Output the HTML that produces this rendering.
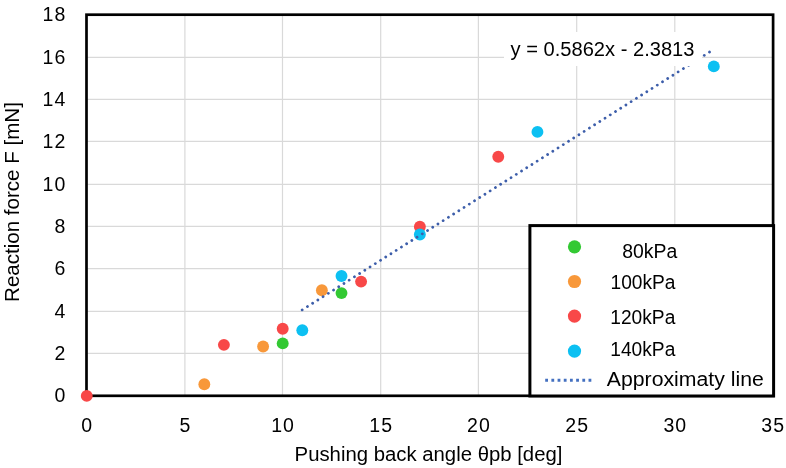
<!DOCTYPE html><html><head><meta charset="utf-8"><style>html,body{margin:0;padding:0;background:#fff;}svg{display:block;will-change:transform;}text{font-family:"Liberation Sans",sans-serif;fill:#000;}</style></head><body>
<svg width="786" height="468" viewBox="0 0 786 468">
<rect x="0" y="0" width="786" height="468" fill="#fff"/>
<line x1="184.9" y1="14.7" x2="184.9" y2="395.8" stroke="#D9D9D9" stroke-width="1.2"/>
<line x1="282.5" y1="14.7" x2="282.5" y2="395.8" stroke="#D9D9D9" stroke-width="1.2"/>
<line x1="380.7" y1="14.7" x2="380.7" y2="395.8" stroke="#D9D9D9" stroke-width="1.2"/>
<line x1="478.4" y1="14.7" x2="478.4" y2="395.8" stroke="#D9D9D9" stroke-width="1.2"/>
<line x1="576.7" y1="14.7" x2="576.7" y2="395.8" stroke="#D9D9D9" stroke-width="1.2"/>
<line x1="674.8" y1="14.7" x2="674.8" y2="395.8" stroke="#D9D9D9" stroke-width="1.2"/>
<line x1="86.5" y1="353.44" x2="773.1" y2="353.44" stroke="#D9D9D9" stroke-width="1.2"/>
<line x1="86.5" y1="311.44" x2="773.1" y2="311.44" stroke="#D9D9D9" stroke-width="1.2"/>
<line x1="86.5" y1="268.6" x2="773.1" y2="268.6" stroke="#D9D9D9" stroke-width="1.2"/>
<line x1="86.5" y1="226.4" x2="773.1" y2="226.4" stroke="#D9D9D9" stroke-width="1.2"/>
<line x1="86.5" y1="184.4" x2="773.1" y2="184.4" stroke="#D9D9D9" stroke-width="1.2"/>
<line x1="86.5" y1="141.45" x2="773.1" y2="141.45" stroke="#D9D9D9" stroke-width="1.2"/>
<line x1="86.5" y1="99.4" x2="773.1" y2="99.4" stroke="#D9D9D9" stroke-width="1.2"/>
<line x1="86.5" y1="57.3" x2="773.1" y2="57.3" stroke="#D9D9D9" stroke-width="1.2"/>
<rect x="86.5" y="14.7" width="686.60" height="381.10" fill="none" stroke="#000" stroke-width="2.7"/>
<circle cx="282.70" cy="343.4" r="5.95" fill="#33C933"/>
<circle cx="341.49" cy="293.1" r="5.95" fill="#33C933"/>
<circle cx="204.32" cy="384.2" r="5.95" fill="#F8983A"/>
<circle cx="263.10" cy="346.55" r="5.95" fill="#F8983A"/>
<circle cx="321.89" cy="290.2" r="5.95" fill="#F8983A"/>
<circle cx="86.74" cy="395.9" r="5.95" fill="#F84848"/>
<circle cx="223.91" cy="344.85" r="5.95" fill="#F84848"/>
<circle cx="282.70" cy="328.7" r="5.95" fill="#F84848"/>
<circle cx="361.08" cy="281.6" r="5.95" fill="#F84848"/>
<circle cx="419.87" cy="226.7" r="5.95" fill="#F84848"/>
<circle cx="498.26" cy="156.7" r="5.95" fill="#F84848"/>
<circle cx="302.30" cy="330.2" r="5.95" fill="#0CC0F2"/>
<circle cx="341.49" cy="276.0" r="5.95" fill="#0CC0F2"/>
<circle cx="419.87" cy="234.5" r="5.95" fill="#0CC0F2"/>
<circle cx="537.45" cy="131.9" r="5.95" fill="#0CC0F2"/>
<circle cx="713.81" cy="66.4" r="5.95" fill="#0CC0F2"/>
<line x1="302.2" y1="309.9" x2="714" y2="49.2" stroke="#3D5EAA" stroke-width="2.8" stroke-linecap="round" stroke-dasharray="0.01 6.17"/>
<rect x="504" y="32" width="198" height="34" fill="#fff"/>
<text x="510.5" y="56.4" font-size="19.5" textLength="184" lengthAdjust="spacingAndGlyphs">y = 0.5862x - 2.3813</text>
<rect x="529.9" y="225.6" width="243.7" height="170.4" fill="#fff" stroke="#000" stroke-width="3"/>
<circle cx="574.5" cy="246.8" r="6.6" fill="#33C933"/>
<circle cx="574.5" cy="281.5" r="6.6" fill="#F8983A"/>
<circle cx="574.5" cy="316.1" r="6.6" fill="#F84848"/>
<circle cx="574.5" cy="351.1" r="6.6" fill="#0CC0F2"/>
<line x1="545.2" y1="380.3" x2="592" y2="380.3" stroke="#4470C0" stroke-width="3" stroke-dasharray="2.8 3.39"/>
<text x="622.3" y="258.3" font-size="19.5" textLength="55" lengthAdjust="spacingAndGlyphs">80kPa</text>
<text x="610.5" y="288.6" font-size="19.5" textLength="65" lengthAdjust="spacingAndGlyphs">100kPa</text>
<text x="610.3" y="324.1" font-size="19.5" textLength="65" lengthAdjust="spacingAndGlyphs">120kPa</text>
<text x="610.3" y="356.2" font-size="19.5" textLength="65" lengthAdjust="spacingAndGlyphs">140kPa</text>
<text x="606.8" y="386" font-size="19.5" textLength="157" lengthAdjust="spacingAndGlyphs">Approximaty line</text>
<text x="66.3" y="402.20" font-size="19.5" text-anchor="end" letter-spacing="1.0">0</text>
<text x="66.3" y="359.84" font-size="19.5" text-anchor="end" letter-spacing="1.0">2</text>
<text x="66.3" y="317.84" font-size="19.5" text-anchor="end" letter-spacing="1.0">4</text>
<text x="66.3" y="275.00" font-size="19.5" text-anchor="end" letter-spacing="1.0">6</text>
<text x="66.3" y="232.80" font-size="19.5" text-anchor="end" letter-spacing="1.0">8</text>
<text x="66.3" y="190.80" font-size="19.5" text-anchor="end" letter-spacing="1.0">10</text>
<text x="66.3" y="147.85" font-size="19.5" text-anchor="end" letter-spacing="1.0">12</text>
<text x="66.3" y="105.80" font-size="19.5" text-anchor="end" letter-spacing="1.0">14</text>
<text x="66.3" y="63.70" font-size="19.5" text-anchor="end" letter-spacing="1.0">16</text>
<text x="66.3" y="21.10" font-size="19.5" text-anchor="end" letter-spacing="1.0">18</text>
<text x="87.24" y="431.6" font-size="19.5" text-anchor="middle" letter-spacing="1.0">0</text>
<text x="185.40" y="431.6" font-size="19.5" text-anchor="middle" letter-spacing="1.0">5</text>
<text x="283.00" y="431.6" font-size="19.5" text-anchor="middle" letter-spacing="1.0">10</text>
<text x="381.20" y="431.6" font-size="19.5" text-anchor="middle" letter-spacing="1.0">15</text>
<text x="478.90" y="431.6" font-size="19.5" text-anchor="middle" letter-spacing="1.0">20</text>
<text x="577.20" y="431.6" font-size="19.5" text-anchor="middle" letter-spacing="1.0">25</text>
<text x="675.30" y="431.6" font-size="19.5" text-anchor="middle" letter-spacing="1.0">30</text>
<text x="773.20" y="431.6" font-size="19.5" text-anchor="middle" letter-spacing="1.0">35</text>
<text x="428.5" y="461.0" font-size="19.5" text-anchor="middle" textLength="267.8" lengthAdjust="spacingAndGlyphs">Pushing back angle θpb [deg]</text>
<text transform="translate(19,202.05) rotate(-90)" x="0" y="0" font-size="19.5" text-anchor="middle" textLength="199.8" lengthAdjust="spacingAndGlyphs">Reaction force F [mN]</text>
</svg></body></html>
